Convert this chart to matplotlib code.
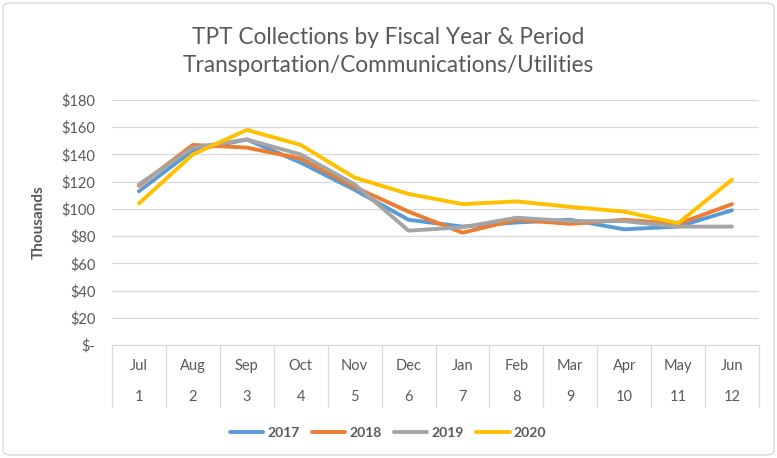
import numpy as np
import matplotlib
matplotlib.use("Agg")
import matplotlib.pyplot as plt
from matplotlib.patches import FancyBboxPatch
from matplotlib.ticker import FuncFormatter

months = ["Jul", "Aug", "Sep", "Oct", "Nov", "Dec", "Jan", "Feb", "Mar", "Apr", "May", "Jun"]
periods = ["1", "2", "3", "4", "5", "6", "7", "8", "9", "10", "11", "12"]

fy2017 = [113, 143, 151, 134, 114, 92, 87, 90, 92, 85, 87, 99]
fy2018 = [117, 147, 145, 137, 116, 98, 82.5, 92, 89, 92, 89, 103.5]
fy2019 = [118, 145, 151, 140, 118, 84, 86.5, 93.5, 91, 91, 87, 87]
fy2020 = [104, 140, 158, 147, 123, 111, 103.5, 105.5, 101.5, 98, 89.5, 121.5]

plt.rcParams['font.family'] = ['Lato', 'DejaVu Sans']
txt = "#595959"

fig = plt.figure(figsize=(7.77, 4.58), dpi=100)
ax = fig.add_axes([112/777, 1-345/458, 647/777, 245/458])

x = np.arange(len(months))
ax.plot(x, fy2017, color="#5B9BD5", lw=2.8, label="2017", solid_capstyle="round")
ax.plot(x, fy2018, color="#ED7D31", lw=2.8, label="2018", solid_capstyle="round")
ax.plot(x, fy2019, color="#A5A5A5", lw=2.8, label="2019", solid_capstyle="round")
ax.plot(x, fy2020, color="#FFC000", lw=2.8, label="2020", solid_capstyle="round")

ax.set_xlim(-0.5, 11.5)
ax.set_ylim(0, 180)
ax.set_yticks(range(0, 181, 20))
ax.yaxis.set_major_formatter(FuncFormatter(lambda v, p: "$-" if v == 0 else f"${int(v)}"))
ax.grid(axis="y", color="#D9D9D9", lw=0.9)
ax.set_axisbelow(True)
for s in ["top", "right", "left"]:
    ax.spines[s].set_visible(False)
ax.spines["bottom"].set_color("#D9D9D9")
ax.tick_params(axis="y", length=0, labelsize=10.5, labelcolor=txt, pad=12)
ax.set_xticks([])

# two-level category axis
trans = ax.get_xaxis_transform()
for b in np.arange(-0.5, 12, 1):
    ax.plot([b, b], [0, -0.253], transform=trans, color="#D9D9D9", lw=0.9, clip_on=False)
for i in range(len(months)):
    ax.text(i, -0.086, months[i], transform=trans, ha="center", va="center", fontsize=10.5, color=txt)
    ax.text(i, -0.212, periods[i], transform=trans, ha="center", va="center", fontsize=10.5, color=txt)

ax.set_ylabel("Thousands", fontsize=11, fontweight="bold", color=txt, labelpad=11)

fig.text(0.5, 1-37/458, "TPT Collections by Fiscal Year & Period", ha="center", va="center", fontsize=16.3, color=txt)
fig.text(0.5, 1-66/458, "Transportation/Communications/Utilities", ha="center", va="center", fontsize=16.3, color=txt)

leg = fig.legend(loc="center", bbox_to_anchor=(388/777, 1-433/458), ncol=4, frameon=False,
                 handlelength=2.4, columnspacing=0.9, handletextpad=0.3,
                 prop={"weight": "bold", "size": 10})
for t in leg.get_texts():
    t.set_color(txt)

fig.patches.append(FancyBboxPatch((3/777, 3/458), 771/777, 452/458, boxstyle="round,pad=0,rounding_size=0.01",
                                  transform=fig.transFigure, fill=False, ec="#D9D9D9", lw=1))

fig.savefig("out.png", dpi=100)
